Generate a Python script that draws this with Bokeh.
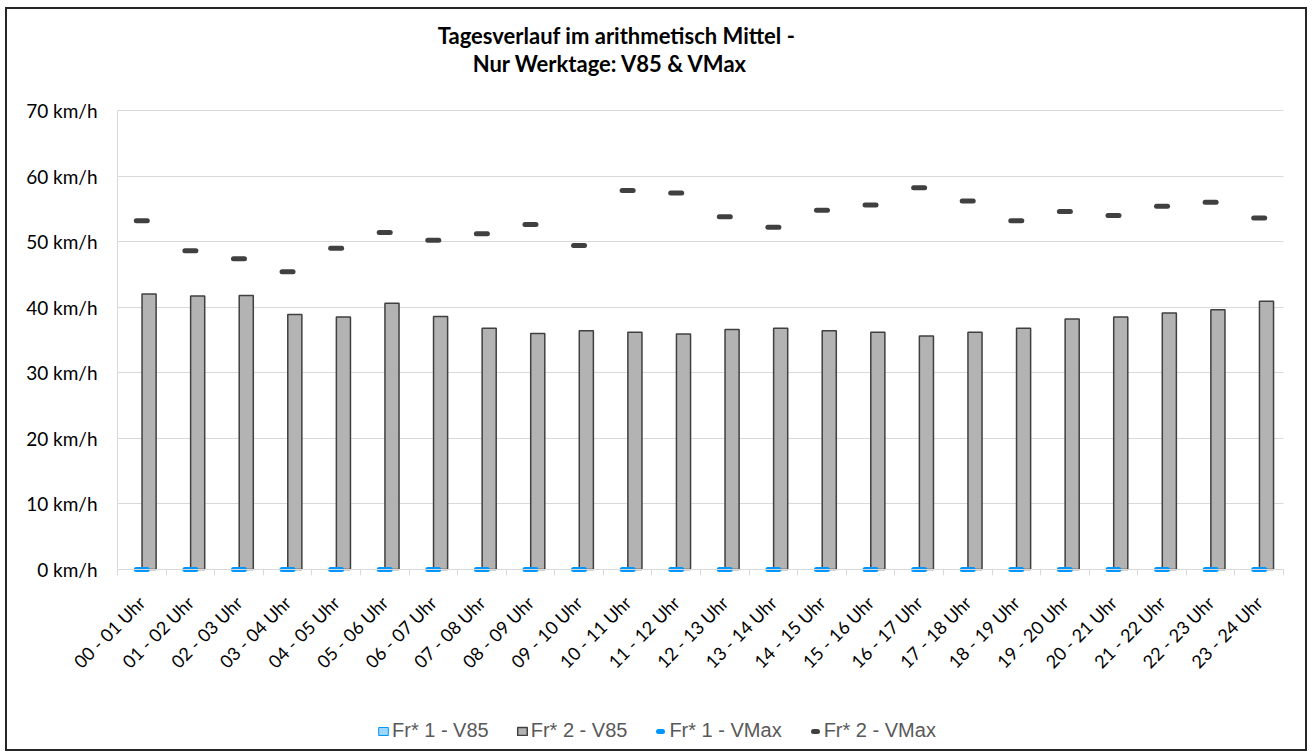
import math
from bokeh.plotting import figure
from bokeh.models import (Range1d, FixedTicker, Label, Legend, LegendItem,
                          ColumnDataSource)
from bokeh.embed import file_html
from bokeh.resources import INLINE

categories = ["00 - 01 Uhr", "01 - 02 Uhr", "02 - 03 Uhr", "03 - 04 Uhr",
              "04 - 05 Uhr", "05 - 06 Uhr", "06 - 07 Uhr", "07 - 08 Uhr",
              "08 - 09 Uhr", "09 - 10 Uhr", "10 - 11 Uhr", "11 - 12 Uhr",
              "12 - 13 Uhr", "13 - 14 Uhr", "14 - 15 Uhr", "15 - 16 Uhr",
              "16 - 17 Uhr", "17 - 18 Uhr", "18 - 19 Uhr", "19 - 20 Uhr",
              "20 - 21 Uhr", "21 - 22 Uhr", "22 - 23 Uhr", "23 - 24 Uhr"]
fr1_v85 = [0] * 24
fr2_v85 = [42.0, 41.7, 41.8, 38.9, 38.5, 40.6, 38.6, 36.8, 36.0, 36.4,
           36.2, 35.9, 36.6, 36.8, 36.4, 36.2, 35.6, 36.2, 36.8, 38.2,
           38.5, 39.1, 39.6, 40.9]
fr1_vmax = [0] * 24
fr2_vmax = [53.2, 48.6, 47.4, 45.4, 49.0, 51.4, 50.2, 51.2, 52.6, 49.4,
            57.8, 57.4, 53.8, 52.2, 54.8, 55.6, 58.2, 56.2, 53.2, 54.6,
            54.0, 55.4, 56.0, 53.6]
y_ticks = [0, 10, 20, 30, 40, 50, 60, 70]
title_lines = ["Tagesverlauf im arithmetisch Mittel -", "Nur Werktage: V85 & VMax"]

# layout (pixels inside the bordered figure); the frame covers the whole figure
W, H = 1302, 744
PLOT_LEFT, PLOT_RIGHT = 110, 1276   # pixel columns of the category axis ends
PLOT_TOP, PLOT_BOTTOM = 101, 560    # pixel rows of 70 km/h and 0 km/h
n = len(categories)
px_per_cat = (PLOT_RIGHT - PLOT_LEFT) / n
px_per_unit = (PLOT_BOTTOM - PLOT_TOP) / 70.0
x_start = -PLOT_LEFT / px_per_cat
x_end = n + (W - PLOT_RIGHT) / px_per_cat
y_start = -(H - PLOT_BOTTOM) / px_per_unit
y_end = 70 + PLOT_TOP / px_per_unit

centers = [i + 0.5 for i in range(n)]

src = ColumnDataSource(dict(
    xc=centers,
    x1=[c - 0.15 for c in centers],
    x2=[c + 0.15 for c in centers],
    fr1_v85=fr1_v85, fr2_v85=fr2_v85, fr1_vmax=fr1_vmax, fr2_vmax=fr2_vmax,
))

p = figure(width=W, height=H, output_backend="svg", toolbar_location=None,
           x_range=Range1d(x_start, x_end), y_range=Range1d(y_start, y_end),
           min_border=0, background_fill_color="white",
           border_fill_color="white", outline_line_color=None)
p.margin = (7, 0, 0, 5)
p.styles = {"border": "2px solid #262626"}

# grid
p.xgrid.grid_line_color = None
yg = p.ygrid[0]
yg.grid_line_color = "#d9d9d9"
yg.grid_line_width = 1
yg.bounds = (0, 70)
try:
    yg.cross_bounds = (0, n)
except Exception:
    yg.grid_line_color = None
    p.segment(x0=[0] * len(y_ticks), x1=[n] * len(y_ticks), y0=y_ticks,
              y1=y_ticks, line_color="#d9d9d9", line_width=1, level="underlay")

# y axis, pinned at x = 0
p.yaxis.fixed_location = 0
p.yaxis.bounds = (0, 70)
p.yaxis.ticker = FixedTicker(ticks=y_ticks)
p.yaxis.major_label_overrides = {t: f"{t} km/h" for t in y_ticks}
p.yaxis.axis_line_color = "#d9d9d9"
p.yaxis.major_tick_line_color = None
p.yaxis.minor_tick_line_color = None
p.yaxis.major_tick_out = 0
p.yaxis.major_tick_in = 0
p.yaxis.major_label_standoff = 20
p.yaxis.major_label_text_font = "Lato"
p.yaxis.major_label_text_font_size = "19px"
p.yaxis.major_label_text_color = "#000000"

# x axis, pinned at y = 0
p.xaxis.fixed_location = 0
p.xaxis.bounds = (0, n)
p.xaxis.ticker = FixedTicker(ticks=centers, minor_ticks=list(range(n + 1)))
p.xaxis.major_label_overrides = {c: lab for c, lab in zip(centers, categories)}
p.xaxis.axis_line_color = "#d9d9d9"
p.xaxis.major_tick_line_color = None
p.xaxis.major_tick_out = 0
p.xaxis.major_tick_in = 0
p.xaxis.minor_tick_line_color = "#d9d9d9"
p.xaxis.minor_tick_out = 6
p.xaxis.minor_tick_in = 0
p.xaxis.major_label_orientation = math.pi / 4
p.xaxis.major_label_standoff = 24
p.xaxis.major_label_text_font = "Lato"
p.xaxis.major_label_text_font_size = "18px"
p.xaxis.major_label_text_color = "#000000"

r1 = p.vbar(x="x1", top="fr1_v85", width=0.29, source=src,
            fill_color="#9dd6ff", line_color="#0096ff", line_width=1)
r2 = p.vbar(x="x2", top="fr2_v85", width=0.29, source=src,
            fill_color="#b3b3b3", line_color="#404040", line_width=1.5)
r3 = p.scatter(x="xc", y="fr1_vmax", source=src, marker="dash", size=11,
               line_color="#0096ff", line_width=5, line_cap="round")
r4 = p.scatter(x="xc", y="fr2_vmax", source=src, marker="dash", size=11,
               line_color="#404040", line_width=5, line_cap="round")

legend = Legend(items=[
    LegendItem(label="Fr* 1 - V85", renderers=[r1]),
    LegendItem(label="Fr* 2 - V85", renderers=[r2]),
    LegendItem(label="Fr* 1 - VMax", renderers=[r3]),
    LegendItem(label="Fr* 2 - VMax", renderers=[r4]),
], orientation="horizontal", location=(370, 11), padding=0, margin=0,
    spacing=27, label_standoff=3, glyph_width=12, glyph_height=10,
    label_height=20, label_text_font="Liberation Sans",
    label_text_font_size="20px", label_text_color="#595959",
    border_line_color=None, background_fill_alpha=0)
p.add_layout(legend, "center")

for txt, cx, cy in zip(title_lines, [609, 603], [26, 54]):
    p.add_layout(Label(x=cx, y=H - cy, x_units="screen", y_units="screen",
                       text=txt, text_align="center", text_baseline="middle",
                       text_font="Lato", text_font_style="bold",
                       text_font_size="22px", text_color="#000000"))

open("out.html", "w").write(file_html(p, INLINE))
